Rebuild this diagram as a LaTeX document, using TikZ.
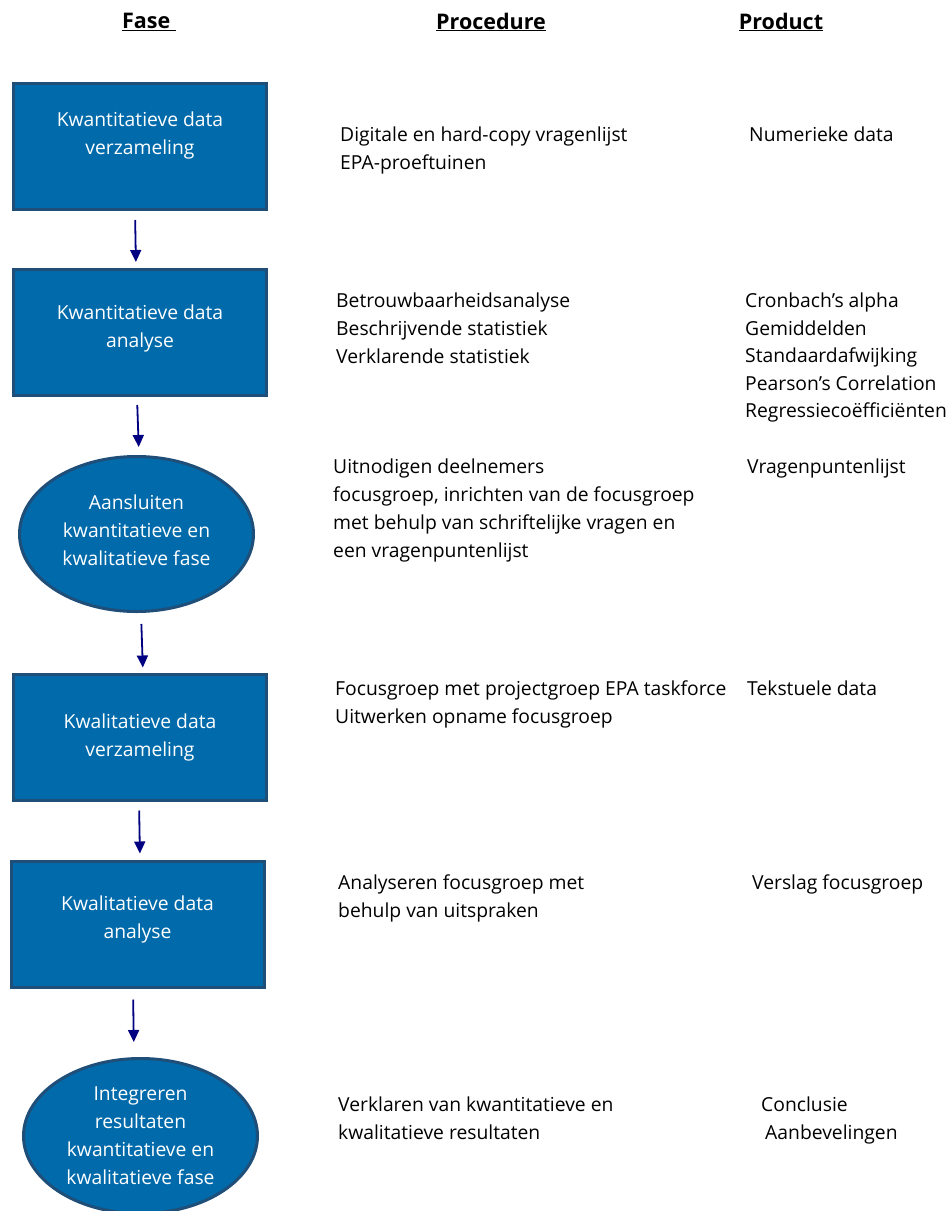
\documentclass[tikz,border=0pt]{standalone}
\usepackage{fontspec}
\setmainfont{Open Sans}
\usetikzlibrary{shapes.geometric,arrows.meta}
\definecolor{fasevul}{RGB}{0,106,170}
\definecolor{faserand}{RGB}{31,78,121}
\definecolor{pijlblauw}{RGB}{0,0,128}
\tikzset{
  fasebox/.style={draw=faserand,line width=3pt,fill=fasevul,text=white,align=center,
    minimum width=253pt,minimum height=126pt,inner sep=0pt,
    text depth=#1,font=\fontsize{19.3}{28}\selectfont},
  fasebox/.default=12pt,
  faseovaal/.style={fasebox=#1,ellipse,minimum width=234pt,minimum height=155pt,inner xsep=-12pt},
  uitleg/.style={anchor=north west,align=left,inner sep=0pt,font=\fontsize{19.3}{28}\selectfont},
  kop/.style={font=\bfseries\fontsize{21.5}{24}\selectfont},
  pijl/.style={pijlblauw,line width=1.8pt,-{Triangle[length=12pt,width=11pt]}}
}
\begin{document}
\begin{tikzpicture}[x=1pt,y=-1pt]
\useasboundingbox (0,0) rectangle (947,1211);
% kolomkoppen
\node[kop] (kfase) at (149,22) {\underline{Fase\ }};
\node[kop] (kproc) at (491,22) {\underline{Procedure}};
\node[kop] (kprod) at (781,22) {\underline{Product}};
% fasen
\node[fasebox=26pt] (b1) at (140,146.5) {Kwantitatieve data\\verzameling};
\node[fasebox=12pt] (b2) at (140,332.5) {Kwantitatieve data\\analyse};
\node[faseovaal=7pt] (e1) at (136.5,534) {Aansluiten\\kwantitatieve en\\kwalitatieve fase};
\node[fasebox=3pt] (b3) at (140,737) {Kwalitatieve data\\verzameling};
\node[fasebox=13pt] (b4) at (137.5,924) {Kwalitatieve data\\analyse};
\node[faseovaal=0pt] (e2) at (140.5,1136) {Integreren\\resultaten\\kwantitatieve en\\kwalitatieve fase};
\draw[pijl,shorten <=9pt,shorten >=6pt] ([xshift=-5pt]b1.south) -- ([xshift=-4pt]b2.north);
\draw[pijl,shorten <=8pt,shorten >=8pt] ([xshift=-3pt]b2.south) -- ([xshift=2.5pt]e1.north);
\draw[pijl,shorten <=11pt,shorten >=5pt] ([xshift=4.5pt]e1.south) -- ([xshift=3pt]b3.north);
\draw[pijl,shorten <=9pt,shorten >=6pt] ([xshift=-1pt]b3.south) -- ([xshift=2.5pt]b4.north);
\draw[pijl,shorten <=11pt,shorten >=15pt] ([xshift=-4.5pt]b4.south) -- ([xshift=-6.5pt]e2.north);
% procedure
\node[uitleg] (p1) at (340,127) {Digitale en hard-copy vragenlijst\\EPA-proeftuinen};
\node[uitleg] (p2) at (336,293) {Betrouwbaarheidsanalyse\\Beschrijvende statistiek\\Verklarende statistiek};
\node[uitleg] (p3) at (333,459) {Uitnodigen deelnemers\\focusgroep, inrichten van de focusgroep\\met behulp van schriftelijke vragen en\\een vragenpuntenlijst};
\node[uitleg] (p4) at (335,681) {Focusgroep met projectgroep EPA taskforce\\Uitwerken opname focusgroep};
\node[uitleg] (p5) at (338,875) {Analyseren focusgroep met\\behulp van uitspraken};
\node[uitleg] (p6) at (338,1097) {Verklaren van kwantitatieve en\\kwalitatieve resultaten};
% product
\node[uitleg] (q1) at (749,127) {Numerieke data};
\node[uitleg,font=\fontsize{19.3}{27.5}\selectfont] (q2) at (745,293) {Cronbach’s alpha\\Gemiddelden\\Standaardafwijking\\Pearson’s Correlation\\Regressiecoëfficiënten};
\node[uitleg] (q3) at (747,459) {Vragenpuntenlijst};
\node[uitleg] (q4) at (747,681) {Tekstuele data};
\node[uitleg] (q5) at (752,875) {Verslag focusgroep};
\node[uitleg] (q6) at (761,1097) {Conclusie\\\hspace*{4pt}Aanbevelingen};
\end{tikzpicture}
\end{document}
